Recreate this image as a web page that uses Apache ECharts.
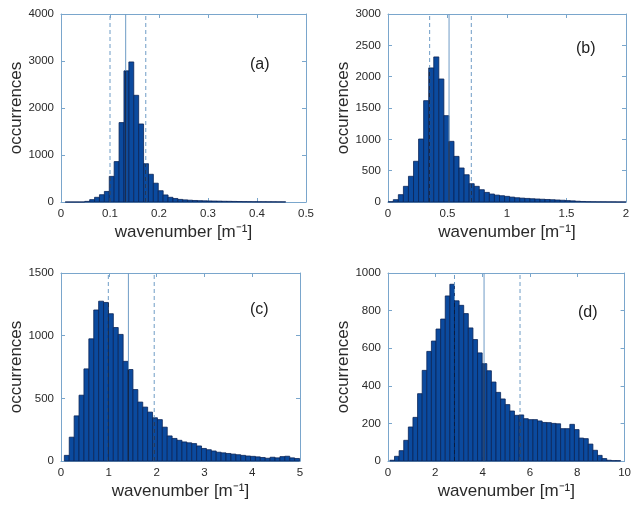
<!DOCTYPE html>
<html><head><meta charset="utf-8">
<script src="https://cdn.jsdelivr.net/npm/echarts@6/dist/echarts.min.js"></script>
<style>html,body{margin:0;padding:0;background:#fff}#c{width:634px;height:507px}</style>
</head><body><div id="c"></div>
<script>
// ---- data (histogram counts) ----
const countsA = [0,0,0,0,13,50,100,155,225,545,860,1690,2790,2980,2270,1660,815,590,400,240,150,100,75,55,45,38,32,28,25,22,20,18,15,14,12,10,8,7,6,5,5,4,4,3,3];
const binStartA = 0.0085, binWidthA = 0.01;
const countsB = [5,37,117,250,410,650,1005,1617,2140,2315,1963,1378,968,728,543,435,292,250,196,153,127,110,100,90,78,68,62,57,52,48,44,40,36,32,28,22,18,12,8,5,4,3,3,2,2,1,1];
const binStartB = 0.002, binWidthB = 0.0425;
const countsC = [45,190,360,525,735,975,1205,1275,1265,1175,1065,1010,795,730,570,470,430,390,345,330,270,200,180,165,152,145,139,120,100,90,80,70,65,60,55,50,45,40,37,33,28,22,30,25,35,38,25,20];
const binStartC = 0.07, binWidthC = 0.1025;
const countsD = [4,25,55,110,181,232,358,482,583,638,702,755,878,940,852,828,784,708,646,575,518,480,420,365,330,300,266,243,245,225,220,220,213,205,204,200,198,172,172,195,167,122,119,90,57,30,13,4,2,2];
const binStartD = 0.08, binWidthD = 0.195;

// reference lines: [dashed, solid, dashed]
const linesA = [0.100, 0.132, 0.173];
const linesB = [0.350, 0.513, 0.700];
const linesC = [0.99, 1.41, 1.95];
const linesD = [2.81, 4.06, 5.58];
const lineKinds = ['dashed', 'solid', 'dashed'];

// axes ranges / tick steps
const xMax = [0.5, 2, 5, 10];
const xStep = [0.1, 0.5, 1, 2];
const yMax = [4000, 3000, 1500, 1000];
const yStep = [1000, 500, 500, 200];
const panelLabels = ['(a)', '(b)', '(c)', '(d)'];
const xLabel = 'wavenumber [m⁻¹]';
const yLabel = 'occurrences';

// ---- layout ----
const grids = [
  {left: 61, top: 14, width: 245, height: 188},
  {left: 388, top: 14, width: 238, height: 188},
  {left: 61, top: 273, width: 239, height: 188},
  {left: 388, top: 273, width: 238, height: 188}
];
const labelPos = [[262, 67], [588, 51], [262, 312], [590, 315]];

const panels = [
  {counts: countsA, start: binStartA, width: binWidthA, lines: linesA},
  {counts: countsB, start: binStartB, width: binWidthB, lines: linesB},
  {counts: countsC, start: binStartC, width: binWidthC, lines: linesC},
  {counts: countsD, start: binStartD, width: binWidthD, lines: linesD}
];

const axisColor = '#7aa6cc';
const textColor = '#2a2a2a';
const font = 'Liberation Sans, Arial, sans-serif';
const plain = v => String(Math.round(v * 1000) / 1000);

const xAxes = [], yAxes = [], series = [], graphics = [];
panels.forEach((p, i) => {
  const tick = {show: true, inside: true, length: 4, lineStyle: {color: axisColor}};
  xAxes.push({
    type: 'value', gridIndex: i, position: 'bottom', min: 0, max: xMax[i], interval: xStep[i],
    axisLine: {show: true, lineStyle: {color: axisColor, width: 1}},
    axisTick: tick, splitLine: {show: false},
    axisLabel: {color: textColor, fontSize: 11.5, fontFamily: font, margin: 6, formatter: plain},
    name: xLabel, nameLocation: 'middle', nameGap: 22,
    nameTextStyle: {color: textColor, fontSize: 17, fontFamily: font}
  });
  xAxes.push({
    type: 'value', gridIndex: i, position: 'top', min: 0, max: xMax[i], interval: xStep[i],
    axisLine: {show: true, onZero: false, lineStyle: {color: axisColor, width: 1}},
    axisTick: tick, splitLine: {show: false}, axisLabel: {show: false}
  });
  yAxes.push({
    type: 'value', gridIndex: i, position: 'left', min: 0, max: yMax[i], interval: yStep[i],
    axisLine: {show: true, lineStyle: {color: axisColor, width: 1}},
    axisTick: tick, splitLine: {show: false},
    axisLabel: {color: textColor, fontSize: 11.5, fontFamily: font, margin: 7, formatter: plain},
    name: yLabel, nameLocation: 'middle', nameGap: 34,
    nameTextStyle: {color: textColor, fontSize: 17, fontFamily: font}
  });
  yAxes.push({
    type: 'value', gridIndex: i, position: 'right', min: 0, max: yMax[i], interval: yStep[i],
    axisLine: {show: true, onZero: false, lineStyle: {color: axisColor, width: 1}},
    axisTick: tick, splitLine: {show: false}, axisLabel: {show: false}
  });

  const barData = p.counts.map((c, k) => [p.start + k * p.width, p.start + (k + 1) * p.width, c]);
  series.push({
    type: 'custom', xAxisIndex: 2 * i, yAxisIndex: 2 * i, z: 2,
    data: barData,
    encode: {x: [0, 1], y: 2},
    renderItem: function (params, api) {
      const a = api.coord([api.value(0), api.value(2)]);
      const b = api.coord([api.value(1), 0]);
      return {type: 'rect', shape: {x: a[0], y: a[1], width: b[0] - a[0], height: b[1] - a[1]},
        style: {fill: '#0b4a9e', stroke: '#0a2458', lineWidth: 0.8}};
    }
  });

  const lineData = p.lines.map((x, j) => {
    const k = Math.floor((x - p.start) / p.width);
    const h = p.counts[k] || 0;
    return [x, h, yMax[i], j];
  });
  series.push({
    type: 'custom', xAxisIndex: 2 * i, yAxisIndex: 2 * i, z: 5,
    data: lineData,
    encode: {x: 0, y: 1},
    renderItem: function (params, api) {
      const x = api.value(0);
      const p0 = api.coord([x, 0]);
      const pt = api.coord([x, api.value(2)]);
      const ph = api.coord([x, api.value(1)]);
      const dashed = lineKinds[api.value(3)] === 'dashed';
      const dash = dashed ? [4, 3] : null;
      return {type: 'group', children: [
        {type: 'line', shape: {x1: p0[0], y1: p0[1], x2: pt[0], y2: pt[1]},
          style: {stroke: '#6f9cc6', lineWidth: 1, lineDash: dash}},
        {type: 'line', shape: {x1: p0[0], y1: p0[1], x2: ph[0], y2: ph[1]},
          style: {stroke: '#0a1a3c', lineWidth: 1, lineDash: dash}}
      ]};
    }
  });

  graphics.push({type: 'text', left: labelPos[i][0] - 12, top: labelPos[i][1] - 10,
    style: {text: panelLabels[i], fill: '#222', font: '16px ' + font}});
});

const chart = echarts.init(document.getElementById('c'), null, {renderer: 'canvas'});
chart.setOption({
  animation: false,
  backgroundColor: '#fff',
  grid: grids.map(g => Object.assign({containLabel: false}, g)),
  xAxis: xAxes,
  yAxis: yAxes,
  series: series,
  graphic: graphics
});
</script>
</body></html>
